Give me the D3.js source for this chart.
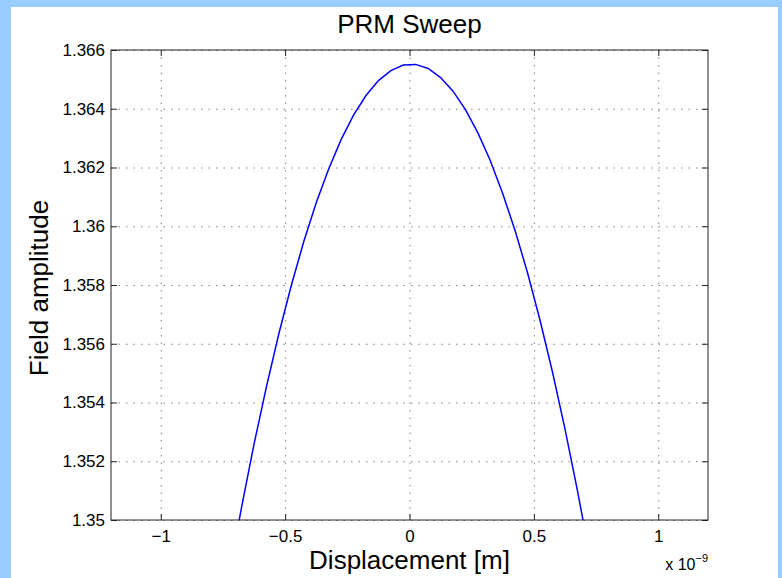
<!DOCTYPE html>
<html>
<head>
<meta charset="utf-8">
<script src="https://cdn.jsdelivr.net/npm/d3@7"></script>
<style>
    body { margin: 0; background: #fff; }
    svg { display: block; font-family: 'Liberation Sans', Arial, Helvetica, sans-serif; }
    .grid line { stroke: #808080; stroke-dasharray: 1.5 6; }
    .axis .domain { display: none; }
    .axis line { stroke: #222; }
    .axis text { font-size: 17px; fill: #000; }
    .chart-title { font-size: 26px; text-anchor: middle; }
    .axis-label { font-size: 26px; text-anchor: middle; }
</style>
</head>
<body>
<svg width="782" height="578"></svg>
<script>
// displacement in units of 1e-9 m
const displacement = [
    -0.775, -0.725, -0.675, -0.625, -0.575, -0.525, -0.475, -0.425,
    -0.375, -0.325, -0.275, -0.225, -0.175, -0.125, -0.075, -0.025,
    0.025, 0.075, 0.125, 0.175, 0.225, 0.275, 0.325, 0.375,
    0.425, 0.475, 0.525, 0.575, 0.625, 0.675, 0.725, 0.775
];
const amplitude = [
    1.34570, 1.34815, 1.35044, 1.35258, 1.35454, 1.35635, 1.35799, 1.35948,
    1.36080, 1.36195, 1.36295, 1.36378, 1.36445, 1.36496, 1.36530, 1.36549,
    1.36551, 1.36537, 1.36506, 1.36460, 1.36397, 1.36318, 1.36223, 1.36111,
    1.35984, 1.35840, 1.35679, 1.35503, 1.35310, 1.35101, 1.34876, 1.34635
];
const xTicks = [-1, -0.5, 0, 0.5, 1];
const xTickLabels = ['\u22121', '\u22120.5', '0', '0.5', '1'];
const yTicks = [1.35, 1.352, 1.354, 1.356, 1.358, 1.36, 1.362, 1.364, 1.366];
const yTickLabels = ['1.35', '1.352', '1.354', '1.356', '1.358', '1.36', '1.362', '1.364', '1.366'];

const svg = d3.select('svg');
const width = +svg.attr('width');
const height = +svg.attr('height');

const render = () => {
    const margin = { top: 50, right: 74, bottom: 58, left: 111 };
    const innerWidth = width - margin.left - margin.right;
    const innerHeight = height - margin.top - margin.bottom;

    // light blue frame round the figure
    svg.append('rect').attr('width', width).attr('height', height).attr('fill', '#99ccff');
    svg.append('rect').attr('x', 11).attr('y', 7)
        .attr('width', width - 15).attr('height', height - 7).attr('fill', '#fff');

    const xScale = d3.scaleLinear().domain([-1.2, 1.2]).range([0, innerWidth]);
    const yScale = d3.scaleLinear().domain([1.35, 1.366]).range([innerHeight, 0]);

    const g = svg.append('g')
        .attr('transform', `translate(${margin.left}, ${margin.top})`);

    // dotted grid
    g.append('g').classed('grid', true)
        .call(d3.axisBottom(xScale).tickValues(xTicks).tickSize(innerHeight).tickFormat(''))
        .call(s => s.select('.domain').remove());
    g.append('g').classed('grid', true)
        .call(d3.axisLeft(yScale).tickValues(yTicks).tickSize(-innerWidth).tickFormat(''))
        .call(s => s.select('.domain').remove());

    g.append('clipPath').attr('id', 'plot-clip')
        .append('rect').attr('width', innerWidth).attr('height', innerHeight);

    const line = d3.line()
        .x((d, i) => xScale(displacement[i]))
        .y(d => yScale(d));
    g.append('path')
        .datum(amplitude)
        .attr('clip-path', 'url(#plot-clip)')
        .attr('fill', 'none')
        .attr('stroke', '#0000ff')
        .attr('stroke-width', 1.5)
        .attr('d', line);

    // axes, ticks pointing inward on all four sides
    g.append('g').classed('axis', true)
        .attr('transform', `translate(0, ${innerHeight})`)
        .call(d3.axisBottom(xScale).tickValues(xTicks)
            .tickFormat((d, i) => xTickLabels[i])
            .tickSizeInner(-6).tickSizeOuter(0).tickPadding(10));
    g.append('g').classed('axis', true)
        .call(d3.axisTop(xScale).tickValues(xTicks).tickFormat('')
            .tickSizeInner(-6).tickSizeOuter(0));
    g.append('g').classed('axis', true)
        .call(d3.axisLeft(yScale).tickValues(yTicks)
            .tickFormat((d, i) => yTickLabels[i])
            .tickSizeInner(-6).tickSizeOuter(0).tickPadding(6));
    g.append('g').classed('axis', true)
        .attr('transform', `translate(${innerWidth}, 0)`)
        .call(d3.axisRight(yScale).tickValues(yTicks).tickFormat('')
            .tickSizeInner(-6).tickSizeOuter(0));

    g.append('rect')
        .attr('width', innerWidth).attr('height', innerHeight)
        .attr('fill', 'none').attr('stroke', '#222').attr('stroke-width', 1);

    g.append('text').classed('chart-title', true)
        .attr('x', innerWidth / 2).attr('y', -17)
        .text('PRM Sweep');

    g.append('text').classed('axis-label', true)
        .attr('x', innerWidth / 2).attr('y', innerHeight + 49)
        .text('Displacement [m]');

    g.append('text').classed('axis-label', true)
        .attr('transform', `translate(${48 - margin.left}, ${innerHeight / 2 + 3}) rotate(-90)`)
        .text('Field amplitude');

    const expLabel = g.append('text')
        .attr('x', innerWidth).attr('y', innerHeight + 50)
        .attr('text-anchor', 'end')
        .attr('font-size', 16);
    expLabel.append('tspan').text('x 10');
    expLabel.append('tspan').attr('font-size', 11).attr('dy', -8).text('\u22129');
};

render();
</script>
</body>
</html>
